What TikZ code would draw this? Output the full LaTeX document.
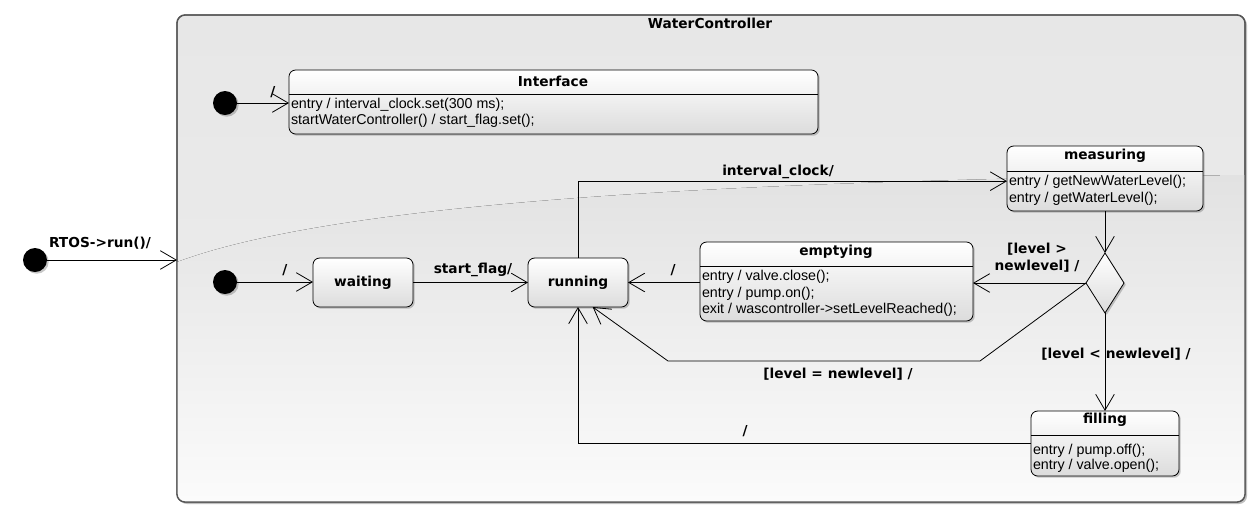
\documentclass[tikz,border=0pt]{standalone}
\usepackage{fontspec}
\setmainfont{Liberation Sans}
\newfontfamily\headfont{DejaVu Sans}
\usetikzlibrary{arrows.meta,shapes.geometric,shadows,calc}

\definecolor{bgtop}{HTML}{E7E7E7}
\definecolor{bgmid}{HTML}{EDEDED}
\definecolor{bandtop}{HTML}{E2E2E2}
\definecolor{bandbot}{HTML}{FBFBFB}
\definecolor{frame}{HTML}{555555}
\definecolor{boxbot}{HTML}{DCDCDC}

\begin{document}
\begin{tikzpicture}[x=0.75pt,y=-0.75pt,
  every node/.style={inner sep=0pt, outer sep=0pt},
  softshadow/.style={drop shadow={shadow xshift=1.3pt, shadow yshift=-1.3pt, opacity=0.3, fill=black!70}},
  flow/.style={draw=black, line width=0.6pt,
    -{Straight Barb[length=12pt,width=14pt,line width=0.6pt]}},
  initial/.style={circle, fill=black, minimum size=18pt, softshadow},
  state/.style={draw=black, line width=0.6pt, rounded corners=5pt,
    top color=white, bottom color=boxbot, softshadow},
  decision/.style={diamond, draw=black, line width=0.6pt,
    minimum width=28.5pt, minimum height=45pt,
    top color=white, bottom color=boxbot, softshadow},
  lbl/.style={font=\headfont\bfseries\fontsize{10.3}{12.5}\selectfont},
  body/.style={anchor=west, font=\fontsize{10.7}{12.5}\selectfont},
  sep/.style={draw=black, line width=0.6pt}
]
\useasboundingbox[fill=white] (0,0) rectangle (1260,519);

% composite state WaterController
\node[draw=frame, line width=1pt, rounded corners=6pt,
      top color=bgtop, bottom color=bgmid,
      minimum width=801pt, minimum height=365.25pt,
      drop shadow={shadow xshift=1.5pt, shadow yshift=-1.5pt, opacity=0.35, fill=black!70}]
      (wc) at (711,258.5) {};
\begin{scope}
  \clip[rounded corners=6pt] (wc.south west) rectangle (wc.north east);
  \fill[top color=bandtop, bottom color=bandbot]
    (177,262) .. controls (330,205) and (700,180) .. (1245,175)
    -- (1245,502) -- (177,502) -- cycle;
\end{scope}
\draw[draw=frame, line width=1pt, rounded corners=6pt] (wc.south west) rectangle (wc.north east);
\node[lbl] (wc-title) at (710,23) {WaterController};

% initial pseudostates
\node[initial] (i0) at (35,260) {};
\node[initial] (i1) at (225,103) {};
\node[initial] (i2) at (225,282) {};

% Interface
\node[state, minimum width=396.75pt, minimum height=48pt] (iface) at (553.5,102) {};
\coordinate (sepI) at (0,94);
\draw[sep] (iface.west |- sepI) -- (iface.east |- sepI);
\node[lbl] (iface-title) at (553,81) {Interface};
\node[body] (iface-l1) at (291,105) {entry / interval\_clock.set(300 ms);};
\node[body] (iface-l2) at (291,121) {startWaterController() / start\_flag.set();};

% simple states
\node[state, minimum width=75pt, minimum height=36.75pt, font=\headfont\bfseries\fontsize{10.3}{12}\selectfont] (waiting) at (363,282.5) {waiting};
\node[state, minimum width=75pt, minimum height=36.75pt, font=\headfont\bfseries\fontsize{10.3}{12}\selectfont] (running) at (578,282.5) {running};

% emptying
\node[state, minimum width=204.75pt, minimum height=59.25pt] (emptying) at (836.5,281.5) {};
\coordinate (sepE) at (0,266);
\draw[sep] (emptying.west |- sepE) -- (emptying.east |- sepE);
\node[lbl] (emptying-title) at (836,252) {emptying};
\node[body] (emptying-l1) at (702,277) {entry / valve.close();};
\node[body] (emptying-l2) at (702,294) {entry / pump.on();};
\node[body] (emptying-l3) at (702,310) {exit / wascontroller->setLevelReached();};

% measuring
\node[state, minimum width=147pt, minimum height=48.75pt] (measuring) at (1105,178.5) {};
\coordinate (sepM) at (0,171);
\draw[sep] (measuring.west |- sepM) -- (measuring.east |- sepM);
\node[lbl] (measuring-title) at (1105,156) {measuring};
\node[body] (measuring-l1) at (1009,182) {entry / getNewWaterLevel();};
\node[body] (measuring-l2) at (1009,199) {entry / getWaterLevel();};

% filling
\node[state, minimum width=111pt, minimum height=48.75pt] (filling) at (1105,443.5) {};
\coordinate (sepF) at (0,435);
\draw[sep] (filling.west |- sepF) -- (filling.east |- sepF);
\node[lbl] (filling-title) at (1105,420) {filling};
\node[body] (filling-l1) at (1033,451) {entry / pump.off();};
\node[body] (filling-l2) at (1033,466) {entry / valve.open();};

% choice
\node[decision] (dec) at (1105,283) {};

% bend points
\coordinate (k1) at (980,361);
\coordinate (k2) at (668,361);

% transitions
\draw[flow] (i0) -- (i0 -| wc.west);
\draw[flow] (i1) -- (i1 -| iface.west);
\draw[flow] (i2) -- (i2 -| waiting.west);
\draw[flow] (waiting) -- (running);
\draw[flow] (running.north) |- ([yshift=-2pt]measuring.west);
\draw[flow] (measuring) -- (dec);
\draw[flow] (dec.west) -- (dec.west -| emptying.east);
\draw[flow] (emptying.west |- running) -- (running.east);
\draw[flow] (dec.west) -- (k1) -- (k2) -- ([xshift=11pt]running.south);
\draw[flow] (dec) -- (filling);
\draw[flow] (filling.west) -| (running.south);

% transition labels
\node[lbl] (t-run) at (100,243) {RTOS->run()/};
\node[lbl] (t-i1) at (273,92) {/};
\node[lbl] (t-i2) at (285,270) {/};
\node[lbl] (t-start) at (473,270) {start\_flag/};
\node[lbl] (t-clock) at (778,172) {interval\_clock/};
\node[lbl] (t-empty) at (673,270) {/};
\node[lbl, align=center] (t-gt) at (1037,258) {[level >\\newlevel] /};
\node[lbl] (t-eq) at (838,374) {[level = newlevel] /};
\node[lbl] (t-lt) at (1116,354) {[level < newlevel] /};
\node[lbl] (t-fill) at (745,431) {/};
\end{tikzpicture}
\end{document}
